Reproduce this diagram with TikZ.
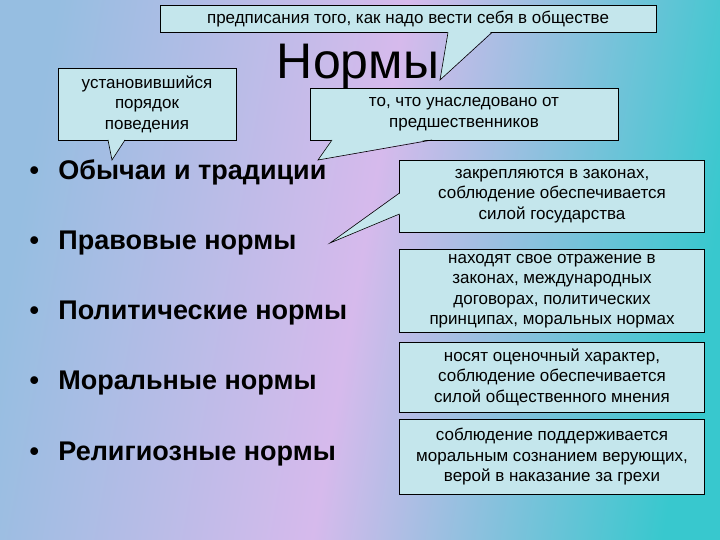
\documentclass[tikz,border=0pt]{standalone}
\usepackage{fontspec}
\setmainfont{Liberation Sans}
\begin{document}
\begin{tikzpicture}[x=1pt,y=-1pt,
  box/.style={draw=black,fill=boxfill,line width=0.6pt,align=center,font=\fontsize{17}{20.5}\selectfont,inner sep=0pt},
  item/.style={anchor=west,font=\bfseries\fontsize{27}{28}\selectfont},
  ptr/.style={draw=black,fill=boxfill,line width=0.6pt}]
\definecolor{boxfill}{RGB}{196,230,236}
\definecolor{lav}{RGB}{214,186,236}
\definecolor{teal1}{RGB}{56,200,206}
\definecolor{blu}{RGB}{150,190,225}
\useasboundingbox (0,0) rectangle (720,540);
\shade[left color=blu,right color=teal1,middle color=lav,shading angle=80] (0,0) rectangle (720,540);
% boxes
\node[box,minimum width=496,minimum height=27] (b1) at (408,19) {предписания того, как надо вести себя в обществе};
\node[box,minimum width=178,minimum height=72] (b2) at (147,104) {установившийся\\порядок\\поведения};
\node[box,minimum width=308,minimum height=52] (b3) at (464,114) {то, что унаследовано от\\предшественников};
\node[box,minimum width=305,minimum height=72] (b4) at (552,196) {закрепляются в законах,\\соблюдение обеспечивается\\силой государства};
\node[box,minimum width=305,minimum height=83] (b5) at (552,291) {находят свое отражение в\\законах, международных\\договорах, политических\\принципах, моральных нормах};
\node[box,minimum width=305,minimum height=70] (b6) at (552,377) {носят оценочный характер,\\соблюдение обеспечивается\\силой общественного мнения};
\node[box,minimum width=305,minimum height=75] (b7) at (552,457) {соблюдение поддерживается\\моральным сознанием верующих,\\верой в наказание за грехи};
% title and items
\node[font=\fontsize{50}{54}\selectfont] (t) at (358,66) {Нормы};
\node[item] (i1) at (26,172) {•\ \ \,Обычаи и традиции};
\node[item] (i2) at (26,243) {•\ \ \,Правовые нормы};
\node[item] (i3) at (26,313) {•\ \ \,Политические нормы};
\node[item] (i4) at (26,383) {•\ \ \,Моральные нормы};
\node[item] (i5) at (26,454) {•\ \ \,Религиозные нормы};
% pointers
\coordinate (p1) at (440,80);
\fill[boxfill] (448,31) -- (p1) -- (492,31) -- cycle;
\draw[line width=0.6pt] (448,32.5) -- (p1) -- (492,32.5);
\coordinate (p2) at (112,160);
\fill[boxfill] (108,139) -- (p2) -- (125,139) -- cycle;
\draw[line width=0.6pt] (108,140) -- (p2) -- (125,140);
\coordinate (p3) at (318,160);
\fill[boxfill] (332,139) -- (p3) -- (432,139) -- cycle;
\draw[line width=0.6pt] (332,140) -- (p3) -- (432,140);
\coordinate (p4) at (330,243);
\fill[boxfill] (400.5,193) -- (p4) -- (400.5,214) -- cycle;
\draw[line width=0.6pt] (399.5,193) -- (p4) -- (399.5,214);
\end{tikzpicture}
\end{document}
